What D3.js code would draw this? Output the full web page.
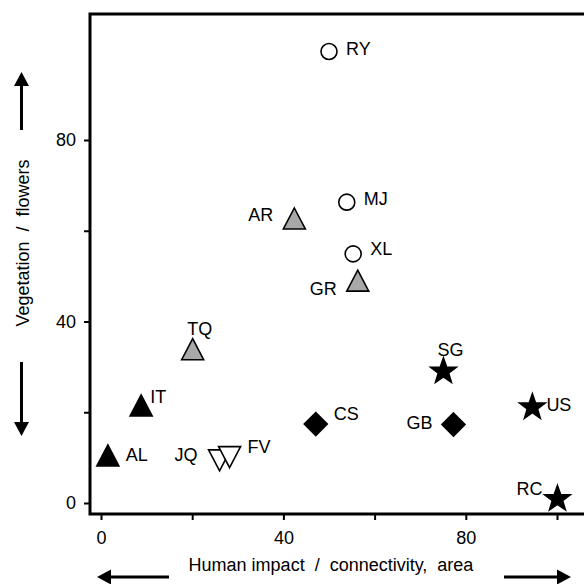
<!DOCTYPE html>
<html>
<head>
<meta charset="utf-8">
<script src="https://cdn.jsdelivr.net/npm/d3@7"></script>
<style>
  body { margin: 0; background: white; }
  text { font-family: Arial, "Liberation Sans", sans-serif; fill: #000; }
</style>
</head>
<body>
<div id="myVis"></div>
<script>
// site codes
const sites  = ["RY", "MJ", "XL", "AR", "GR", "TQ", "IT", "AL", "JQ", "FV", "CS", "GB", "SG", "US", "RC"]
const impact = [50.0, 53.9, 55.3, 42.4, 56.3, 20.1, 8.8, 1.5, 26.0, 28.2, 47.1, 77.3, 75.1, 94.6, 100.1]
const veget  = [99.5, 66.3, 54.9, 62.7, 49.0, 33.9, 21.5, 10.5, 9.4, 10.1, 17.4, 17.3, 29.0, 21.1, 0.9]
const group  = ["circle", "circle", "circle", "grayTri", "grayTri", "grayTri", "blackTri", "blackTri",
                "openDown", "openDown", "diamond", "diamond", "star", "star", "star"]

const xTicks = [0, 20, 40, 60, 80, 100]
const yTicks = [0, 20, 40, 60, 80]
const tickLabels = [0, 40, 80]

// label placement around each marker: [dx, dy, anchor]
const labelPos = {
  RY: [17, -3, "start"], MJ: [17, -3, "start"], XL: [17, -5, "start"],
  AR: [-21, -3, "end"], GR: [-21, 8, "end"], TQ: [7, -20, "middle"],
  IT: [9, -8, "start"], AL: [18, 0, "start"], JQ: [-22, -5, "end"],
  FV: [18, -10, "start"], CS: [18, -10, "start"], GB: [-21, -2, "end"],
  SG: [7, -21, "middle"], US: [14, -2, "start"], RC: [-15, -10, "end"]
}

const width = 584, height = 584
const frame = {left: 90, top: 14, bottom: 514}

const svg = d3.select("#myVis")
  .append("svg")
    .attr("width", width)
    .attr("height", height)
    .style("background-color", "white")

const x = d3.scaleLinear().domain([0, 100]).range([101, 557])
const y = d3.scaleLinear().domain([0, 80]).range([503, 140])

const fmt = d => tickLabels.includes(d) ? d : ""

// axes
const yAxis = svg.append("g")
  .attr("transform", "translate(" + frame.left + ",0)")
  .call(d3.axisLeft(y).tickValues(yTicks).tickFormat(fmt).tickSize(6).tickPadding(8))
const xAxis = svg.append("g")
  .attr("transform", "translate(0," + frame.bottom + ")")
  .call(d3.axisBottom(x).tickValues(xTicks).tickFormat(fmt).tickSize(6).tickPadding(11))

svg.selectAll(".domain").remove()
svg.selectAll(".tick line").attr("stroke", "#000").attr("stroke-width", 2)
svg.selectAll(".tick text").style("font-size", "18px").attr("fill", "#000")

// frame (right side runs off the page)
svg.append("path")
  .attr("d", "M" + (width + 10) + "," + frame.top + "H" + frame.left + "V" + frame.bottom + "H" + (width + 10))
  .attr("fill", "none")
  .attr("stroke", "#000")
  .attr("stroke-width", 3)

// marker shapes
const tri = (w, h, down) => down
  ? "M0," + (h / 2) + "L" + (w / 2) + "," + (-h / 2) + "L" + (-w / 2) + "," + (-h / 2) + "Z"
  : "M0," + (-h / 2) + "L" + (w / 2) + "," + (h / 2) + "L" + (-w / 2) + "," + (h / 2) + "Z"
const starPath = (R, r) => {
  let p = []
  for (let i = 0; i < 10; i++) {
    const a = -Math.PI / 2 + i * Math.PI / 5
    const rr = i % 2 === 0 ? R : r
    p.push([rr * Math.cos(a), rr * Math.sin(a)])
  }
  return "M" + p.map(d => d.join(",")).join("L") + "Z"
}
const shapes = {
  circle:   {d: d3.symbol(d3.symbolCircle, Math.PI * 64)(), fill: "white"},
  grayTri:  {d: tri(22, 21, false), fill: "#a8a8a8"},
  blackTri: {d: tri(22, 21, false), fill: "#000"},
  openDown: {d: tri(22, 21, true), fill: "white"},
  diamond:  {d: "M0,-11.5L11.5,0L0,11.5L-11.5,0Z", fill: "#000"},
  star:     {d: starPath(13.5, 5.4), fill: "#000"}
}

const pts = sites.map((s, i) => ({site: s, x: impact[i], y: veget[i], g: group[i]}))

svg.append("g")
  .selectAll("path")
  .data(pts)
  .enter()
  .append("path")
    .attr("transform", d => "translate(" + x(d.x) + "," + y(d.y) + ")")
    .attr("d", d => shapes[d.g].d)
    .attr("fill", d => shapes[d.g].fill)
    .attr("stroke", "#000")
    .attr("stroke-width", 1.6)
    .attr("stroke-linejoin", "miter")

svg.append("g")
  .selectAll("text")
  .data(pts)
  .enter()
  .append("text")
    .attr("x", d => x(d.x) + labelPos[d.site][0])
    .attr("y", d => y(d.y) + labelPos[d.site][1])
    .attr("text-anchor", d => labelPos[d.site][2])
    .attr("dominant-baseline", "central")
    .style("font-size", "18px")
    .text(d => d.site)

// axis titles
svg.append("text")
  .attr("x", 331)
  .attr("y", 571)
  .attr("text-anchor", "middle")
  .style("font-size", "18px")
  .style("white-space", "pre")
  .text("Human impact  /  connectivity,  area")

svg.append("text")
  .attr("transform", "translate(29,243) rotate(-90)")
  .attr("text-anchor", "middle")
  .style("font-size", "18px")
  .style("white-space", "pre")
  .text("Vegetation  /  flowers")

// direction arrows
const arrow = (x1, y1, x2, y2) => {
  const ang = Math.atan2(y2 - y1, x2 - x1)
  const hl = 14, hw = 7.5
  const bx = x2 - hl * Math.cos(ang), by = y2 - hl * Math.sin(ang)
  svg.append("line")
    .attr("x1", x1).attr("y1", y1).attr("x2", bx).attr("y2", by)
    .attr("stroke", "#000").attr("stroke-width", 3)
  svg.append("path")
    .attr("d", "M" + x2 + "," + y2 +
      "L" + (bx + hw * Math.sin(ang)) + "," + (by - hw * Math.cos(ang)) +
      "L" + (bx - hw * Math.sin(ang)) + "," + (by + hw * Math.cos(ang)) + "Z")
    .attr("fill", "#000")
}
arrow(21.5, 130, 21.5, 72)
arrow(21.5, 362, 21.5, 436)
arrow(169, 577, 97, 577)
arrow(504, 577, 571, 577)
</script>
</body>
</html>
